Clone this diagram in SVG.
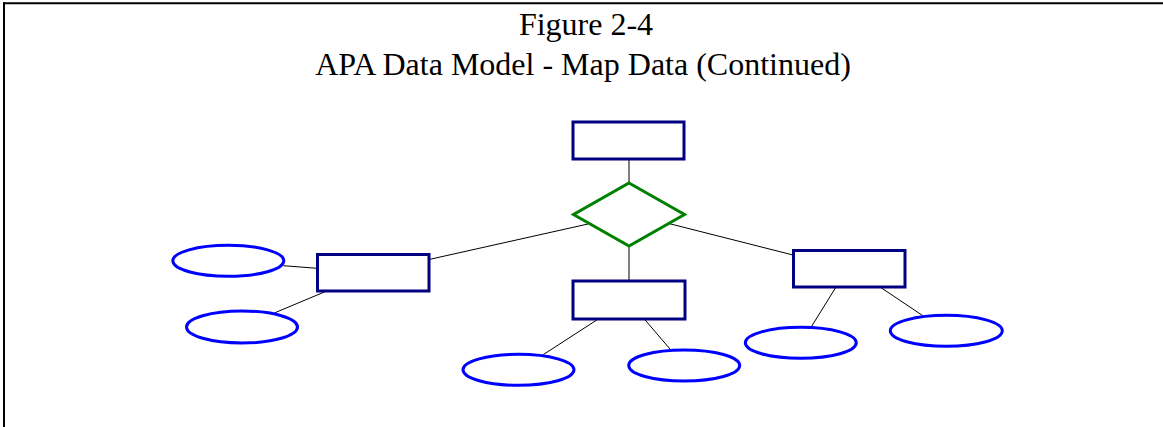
<svg xmlns="http://www.w3.org/2000/svg" width="1163" height="427" viewBox="0 0 1163 427">
<style>
.ent{fill:#fff;stroke:#000080;stroke-width:3}
.att{fill:#fff;stroke:#0000ff;stroke-width:3}
.rel{fill:#fff;stroke:#008000;stroke-width:3}
.con line{stroke:#000;stroke-width:1}
.title{font-family:"Liberation Serif","Times New Roman",serif;font-size:32px;fill:#000;text-anchor:middle}
</style>
<rect width="1163" height="427" fill="#fff"/>
<g id="frame" stroke="#000" stroke-width="2" fill="none">
<line x1="3" y1="3.3" x2="1163" y2="3.3"/>
<line x1="4" y1="2.3" x2="4" y2="427"/>
</g>
<g id="title">
<text class="title" x="586" y="35">Figure 2-4</text>
<text class="title" x="583" y="74.5">APA Data Model - Map Data (Continued)</text>
</g>
<g id="connectors" class="con">
<line x1="629" y1="159" x2="629" y2="183"/>
<line x1="629" y1="246" x2="629" y2="281"/>
<line x1="429" y1="259.5" x2="588" y2="224"/>
<line x1="668" y1="223.3" x2="793" y2="255"/>
<line x1="283.3" y1="265.7" x2="317" y2="268.3"/>
<line x1="326.7" y1="291" x2="275" y2="312.7"/>
<line x1="598.3" y1="319" x2="542.7" y2="355"/>
<line x1="644.3" y1="319" x2="671.7" y2="351"/>
<line x1="836" y1="287" x2="811" y2="327.3"/>
<line x1="880" y1="287" x2="923.3" y2="316"/>
</g>
<g id="entity-top"><rect class="ent" x="573" y="122" width="111" height="37"/></g>
<g id="relationship"><polygon class="rel" points="629,183 684.5,214.5 629,246 573.5,214.5"/></g>
<g id="entity-left"><rect class="ent" x="317.5" y="254.5" width="111.5" height="36.5"/></g>
<g id="entity-mid"><rect class="ent" x="573" y="281" width="112" height="38"/></g>
<g id="entity-right"><rect class="ent" x="793.5" y="250.5" width="111.5" height="36.5"/></g>
<g id="attr-l1"><ellipse class="att" cx="228.3" cy="260.8" rx="55.5" ry="15.5"/></g>
<g id="attr-l2"><ellipse class="att" cx="242" cy="327" rx="55.5" ry="16"/></g>
<g id="attr-m1"><ellipse class="att" cx="518.5" cy="369.8" rx="55.5" ry="15.5"/></g>
<g id="attr-m2"><ellipse class="att" cx="684.2" cy="365.5" rx="55.5" ry="15.5"/></g>
<g id="attr-r1"><ellipse class="att" cx="800.8" cy="342.8" rx="55.5" ry="15.5"/></g>
<g id="attr-r2"><ellipse class="att" cx="946.3" cy="330.8" rx="56" ry="15.5"/></g>
</svg>
